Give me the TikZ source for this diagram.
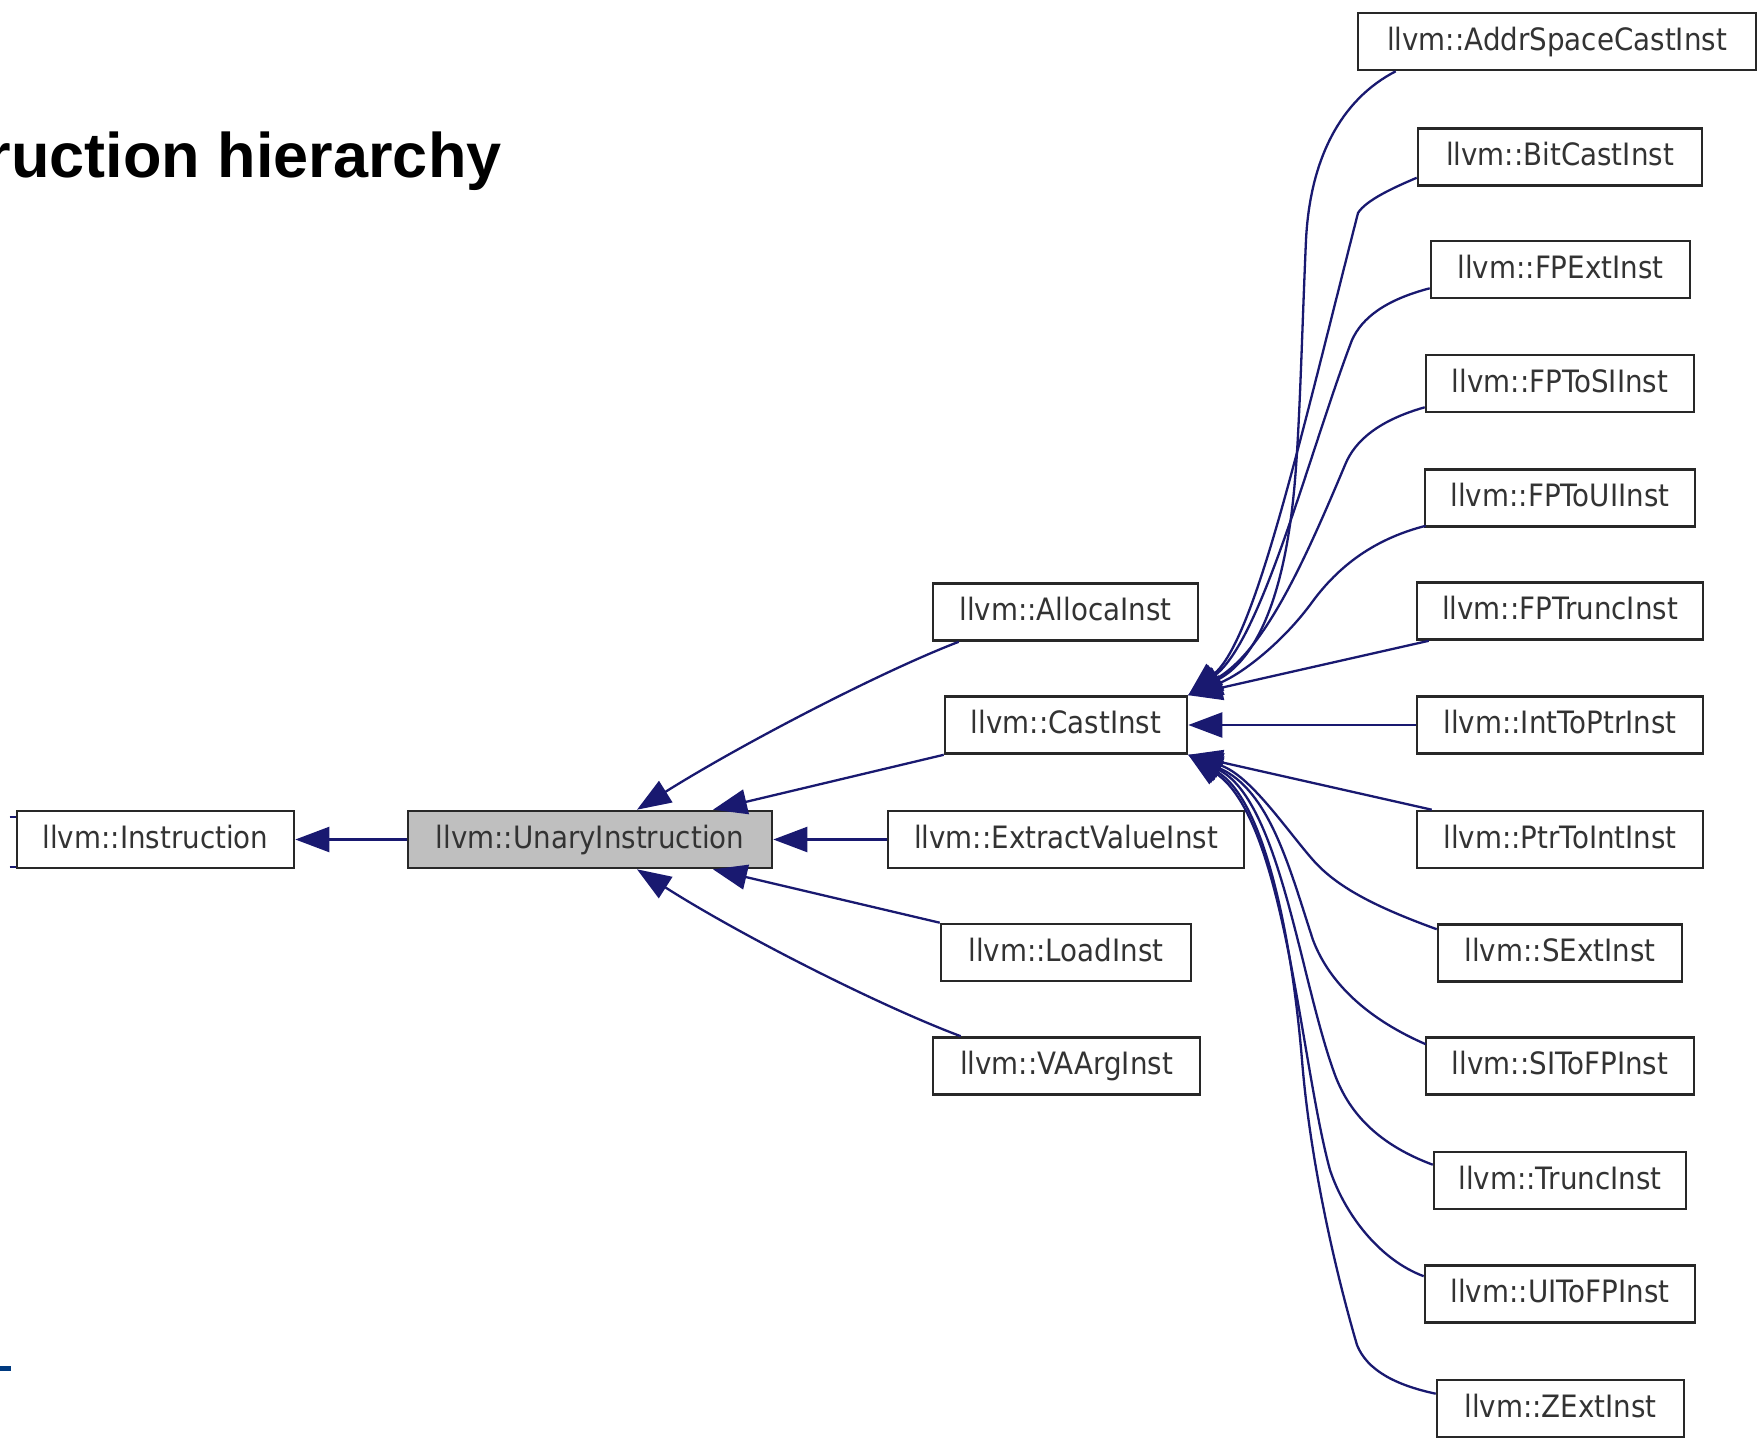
\documentclass[tikz,border=0pt]{standalone}
\usepackage{fontspec}
\newfontfamily\boxfont{DejaVu Sans}[FakeStretch=0.9]
\newfontfamily\titlefont{Liberation Sans}
\usetikzlibrary{arrows.meta,calc}

\definecolor{edgeblue}{RGB}{25,25,112}
\definecolor{framegray}{RGB}{40,40,40}
\definecolor{basegray}{RGB}{191,191,191}
\definecolor{slideblue}{RGB}{0,58,128}

\tikzset{
  cls/.style={draw=framegray, line width=1.3pt, fill=white, inner sep=0pt,
    font=\boxfont\fontsize{15.4}{18}\selectfont, text=black!80,
    text height=11.5pt, text depth=3pt, minimum height=28.5pt},
  inherit/.style={draw=edgeblue, line width=1.15pt,
    -{Triangle[length=17pt,width=12.5pt]}},
}

\begin{document}
\begin{tikzpicture}[x=0.5pt, y=-0.5pt]
\useasboundingbox (0,0) rectangle (1758,1440);
\clip (0,0) rectangle (1758,1440);

% heading and slide decoration
\node[anchor=base east, inner sep=0pt,
      font=\titlefont\bfseries\fontsize{31.5}{36}\selectfont] (title) at (502,177) {ruction hierarchy};
\fill[slideblue] (0,1366) rectangle (11,1371);

% class boxes
\node[cls, minimum width=138.5pt] (instr) at (155.5,839.5) {llvm::Instruction};
\node[cls, minimum width=182pt, fill=basegray] (unary) at (590,839.5) {llvm::UnaryInstruction};

\node[cls, minimum width=132.5pt] (alloca)  at (1065.5,612)  {llvm::AllocaInst};
\node[cls, minimum width=121pt]   (cast)    at (1066,725)    {llvm::CastInst};
\node[cls, minimum width=178pt]   (extract) at (1066,839.5)  {llvm::ExtractValueInst};
\node[cls, minimum width=125pt]   (load)    at (1066,952.5)  {llvm::LoadInst};
\node[cls, minimum width=133.5pt] (vaarg)   at (1066.5,1066) {llvm::VAArgInst};

\node[cls, minimum width=199pt] (addr)     at (1557,41.5)   {llvm::AddrSpaceCastInst};
\node[cls, minimum width=142pt] (bitcast)  at (1560,157)    {llvm::BitCastInst};
\node[cls, minimum width=129.5pt] (fpext)  at (1560.5,269.5) {llvm::FPExtInst};
\node[cls, minimum width=134pt] (fptosi)   at (1560,383.5)  {llvm::FPToSIInst};
\node[cls, minimum width=135pt] (fptoui)   at (1560,498)    {llvm::FPToUIInst};
\node[cls, minimum width=143pt] (fptrunc)  at (1560,611)    {llvm::FPTruncInst};
\node[cls, minimum width=143pt] (inttoptr) at (1560,725)    {llvm::IntToPtrInst};
\node[cls, minimum width=143pt] (ptrtoint) at (1560,839.5)  {llvm::PtrToIntInst};
\node[cls, minimum width=122pt] (sext)     at (1560,953)    {llvm::SExtInst};
\node[cls, minimum width=134pt] (sitofp)   at (1560,1066)   {llvm::SIToFPInst};
\node[cls, minimum width=126pt] (trunc)    at (1560,1180.5) {llvm::TruncInst};
\node[cls, minimum width=135pt] (uitofp)   at (1560,1294)   {llvm::UIToFPInst};
\node[cls, minimum width=123.5pt] (zext)   at (1560.5,1408.5) {llvm::ZExtInst};

% edge stubs entering Instruction from the left
\draw[edgeblue, line width=1.1pt] ($(instr.north west)+(-6,7)$) -- ($(instr.north west)+(0,7)$);
\draw[edgeblue, line width=1.1pt] ($(instr.south west)+(-6,-2)$) -- ($(instr.south west)+(0,-2)$);

% UnaryInstruction -> Instruction
\draw[inherit] (unary.west) -- (instr.east);

% subclasses -> UnaryInstruction
\draw[inherit] ($(alloca.south west)+(27,0)$) .. controls (880,672) and (740,745) .. ($(unary.north)+(47,0)$);
\draw[inherit] (cast.south west) -- ($(unary.north)+(123,0)$);
\draw[inherit] (extract.west) -- (unary.east);
\draw[inherit] (load.north west) -- ($(unary.south)+(123,0)$);
\draw[inherit] ($(vaarg.north west)+(29,0)$) .. controls (880,1006) and (740,935) .. ($(unary.south)+(47,0)$);

% upper casts -> CastInst
\draw[inherit] ($(addr.south west)+(39,0)$) .. controls (1340,100) and (1310,160) .. (1306,240)
   .. controls (1302,330) and (1300,420) .. (1295,480)
   .. controls (1285,600) and (1255,660) .. (cast.north east);
\draw[inherit] ($(bitcast.south west)+(0,-9)$) .. controls (1395,187) and (1366,200) .. (1358,213)
   .. controls (1300,440) and (1255,640) .. (cast.north east);
\draw[inherit] ($(fpext.south west)+(0,-11)$) .. controls (1385,300) and (1362,318) .. (1352,340)
   .. controls (1310,450) and (1262,640) .. (cast.north east);
\draw[inherit] ($(fptosi.south west)+(0,-6)$) .. controls (1380,420) and (1355,440) .. (1345,465)
   .. controls (1305,560) and (1265,650) .. (cast.north east);
\draw[inherit] ($(fptoui.south west)+(2,-2)$) .. controls (1370,540) and (1335,570) .. (1310,605)
   .. controls (1280,645) and (1240,675) .. (cast.north east);
\draw[inherit] ($(fptrunc.south west)+(13,0)$) -- (cast.north east);

% IntToPtrInst -> CastInst
\draw[inherit] (inttoptr.west) -- (cast.east);

% lower casts -> CastInst
\draw[inherit] ($(ptrtoint.north west)+(16,0)$) -- (cast.south east);
\draw[inherit] ($(sext.north west)+(0,6)$) .. controls (1370,905) and (1335,885) .. (1313,860)
   .. controls (1285,828) and (1250,775) .. (cast.south east);
\draw[inherit] ($(sitofp.north west)+(1,8)$) .. controls (1370,1020) and (1330,985) .. (1313,940)
   .. controls (1290,870) and (1270,790) .. (cast.south east);
\draw[inherit] ($(trunc.north west)+(0,14)$) .. controls (1380,1145) and (1350,1115) .. (1335,1075)
   .. controls (1300,980) and (1280,800) .. (cast.south east);
\draw[inherit] ($(uitofp.north west)+(0,12)$) .. controls (1380,1260) and (1345,1215) .. (1330,1170)
   .. controls (1300,1060) and (1285,820) .. (cast.south east);
\draw[inherit] ($(zext.north west)+(0,15)$) .. controls (1395,1385) and (1367,1370) .. (1357,1345)
   .. controls (1335,1270) and (1310,1160) .. (1302,1060)
   .. controls (1292,940) and (1265,800) .. (cast.south east);
\end{tikzpicture}
\end{document}
